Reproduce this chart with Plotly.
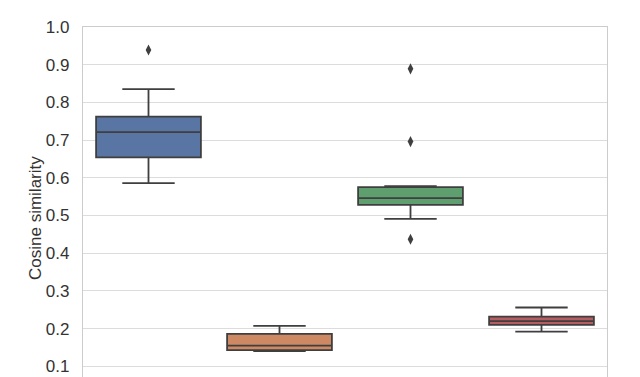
import plotly.graph_objects as go

categories = [0, 1, 2, 3]
lower_whisker = [0.586, 0.140, 0.491, 0.192]
q1_values = [0.654, 0.143, 0.528, 0.210]
median_values = [0.721, 0.155, 0.546, 0.220]
q3_values = [0.762, 0.186, 0.575, 0.232]
upper_whisker = [0.835, 0.207, 0.578, 0.256]
outlier_x = [0, 2, 2, 2]
outlier_y = [0.939, 0.889, 0.696, 0.437]
fill_colors = ["#5975a4", "#cc8963", "#5f9e6e", "#b55d60"]
y_ticks = [0.1, 0.2, 0.3, 0.4, 0.5, 0.6, 0.7, 0.8, 0.9, 1.0]
y_label = "Cosine similarity"

line_gray = "#3f3f3f"
font_family = "Liberation Sans, Arial, sans-serif"

fig = go.Figure()
for i, c in enumerate(categories):
    fig.add_trace(go.Box(
        x=[c], q1=[q1_values[i]], median=[median_values[i]], q3=[q3_values[i]],
        lowerfence=[lower_whisker[i]], upperfence=[upper_whisker[i]],
        width=0.8, whiskerwidth=0.5, boxpoints=False,
        fillcolor=fill_colors[i], line=dict(color=line_gray, width=1.8),
        showlegend=False, hoverinfo="skip",
    ))

fig.add_trace(go.Scatter(
    x=outlier_x, y=outlier_y, mode="markers",
    marker=dict(symbol="diamond-tall", size=8, color=line_gray),
    showlegend=False, hoverinfo="skip",
))

fig.update_layout(
    width=640, height=377,
    margin=dict(l=83, r=33, t=27, b=0),
    paper_bgcolor="white", plot_bgcolor="white",
    boxmode="overlay",
    font=dict(family=font_family, color="#262626", size=17),
    xaxis=dict(range=[-0.5, 3.5], showgrid=False, zeroline=False,
               showticklabels=False, side="top", showline=True,
               linecolor="#cccccc", linewidth=1.3, ticks="", automargin=False),
    yaxis=dict(range=[0.0716, 1.0], tickvals=y_ticks,
               ticktext=[f"{v:.1f}" for v in y_ticks],
               showgrid=True, gridcolor="#dcdcdc", gridwidth=1.2,
               zeroline=False, showline=True, mirror=True,
               linecolor="#cccccc", linewidth=1.3,
               ticks="outside", ticklen=9, tickcolor="rgba(0,0,0,0)",
               tickfont=dict(size=17, color="#333333"), automargin=False),
    annotations=[dict(
        text=y_label, xref="paper", yref="paper",
        x=(35 - 83) / 524, y=(377 - 218) / 350,
        xanchor="center", yanchor="middle", textangle=-90,
        showarrow=False, font=dict(size=17, color="#333333"),
    )],
)

fig.write_html("out.html",
               config={"displayModeBar": False},
               post_script="document.body.style.margin='0';document.body.style.overflow='hidden';")
